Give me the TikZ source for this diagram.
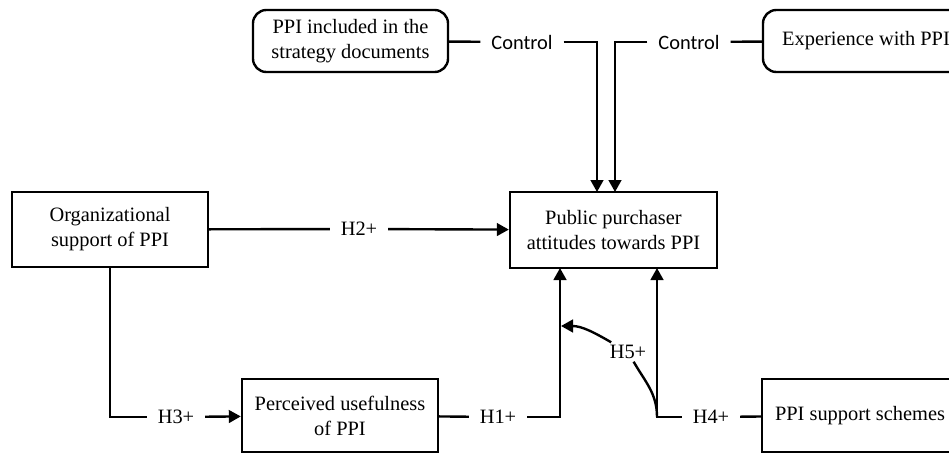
\documentclass[tikz,border=0pt]{standalone}
\usepackage{fontspec}
\setmainfont{Liberation Serif}
\newfontfamily\calfont{Carlito}
\usetikzlibrary{arrows.meta}
\begin{document}
\begin{tikzpicture}[x=0.75pt,y=-0.75pt,
  box/.style={draw,line width=1.8pt,align=center,font=\fontsize{15.3}{18.75}\selectfont,inner sep=0pt},
  rbox/.style={box,rounded corners=10pt},
  lab/.style={font=\fontsize{15.3}{18}\selectfont,inner xsep=8pt,inner ysep=2pt},
  ctl/.style={lab,font=\calfont\fontsize{15.3}{18}\selectfont},
  conn/.style={line width=1.8pt},
  arr/.style={conn,-{Triangle[length=9pt,width=9.5pt]}}]
\useasboundingbox (0,0) rectangle (949,453);
% boxes
\node[rbox,minimum width=146.25pt,minimum height=46.5pt] (s) at (350.5,41) {PPI included in the\\strategy documents};
\node[rbox,minimum width=154.5pt,minimum height=46.5pt] (e) at (866,41) {Experience with PPI};
\node[box,minimum width=155.25pt,minimum height=57pt] (pub) at (613.5,230) {Public purchaser\\attitudes towards PPI};
\node[box,minimum width=147pt,minimum height=56.25pt] (org) at (110,229.5) {Organizational\\support of PPI};
\node[box,minimum width=147pt,minimum height=54.75pt] (per) at (340,415.5) {Perceived usefulness\\of PPI};
\node[box,minimum width=147pt,minimum height=54.75pt] (sup) at (860,415.5) {PPI support schemes};
% labels
\node[ctl] (c1) at (522,42) {Control};
\node[ctl] (c2) at (689,42) {Control};
\node[lab] (h2) at (359,229) {H2+};
\node[lab] (h3) at (176,417) {H3+};
\node[lab] (h1) at (498,417) {H1+};
\node[lab] (h4) at (711,417) {H4+};
\node[lab,inner xsep=2pt,inner ysep=2pt] (h5) at (628,352) {H5+};
% coordinates
\coordinate (t1) at (597,192);
\coordinate (t2) at (615,192);
\coordinate (ob) at (110,417);
\coordinate (b1) at (560,268);
\coordinate (b4) at (657,268);
\coordinate (k4) at (657,417);
\coordinate (a5) at (561,326);
% connectors
\draw[conn] (s) -- (c1);
\draw[arr] (c1) -| (t1);
\draw[conn] (e) -- (c2);
\draw[arr] (c2) -| (t2);
\draw[conn] (org) -- (h2);
\draw[arr] (h2) -- (pub);
\draw[conn] (org) -- (ob) -- (h3);
\draw[arr] (h3) -- (per);
\draw[conn] (per) -- (h1);
\draw[arr] (h1) -| (b1);
\draw[conn] (sup) -- (h4);
\draw[arr] (h4) -| (b4);
\draw[conn] (k4) to[out=90,in=-60] (h5);
\draw[arr] (h5) to[out=150,in=0] (a5);
\end{tikzpicture}
\end{document}
